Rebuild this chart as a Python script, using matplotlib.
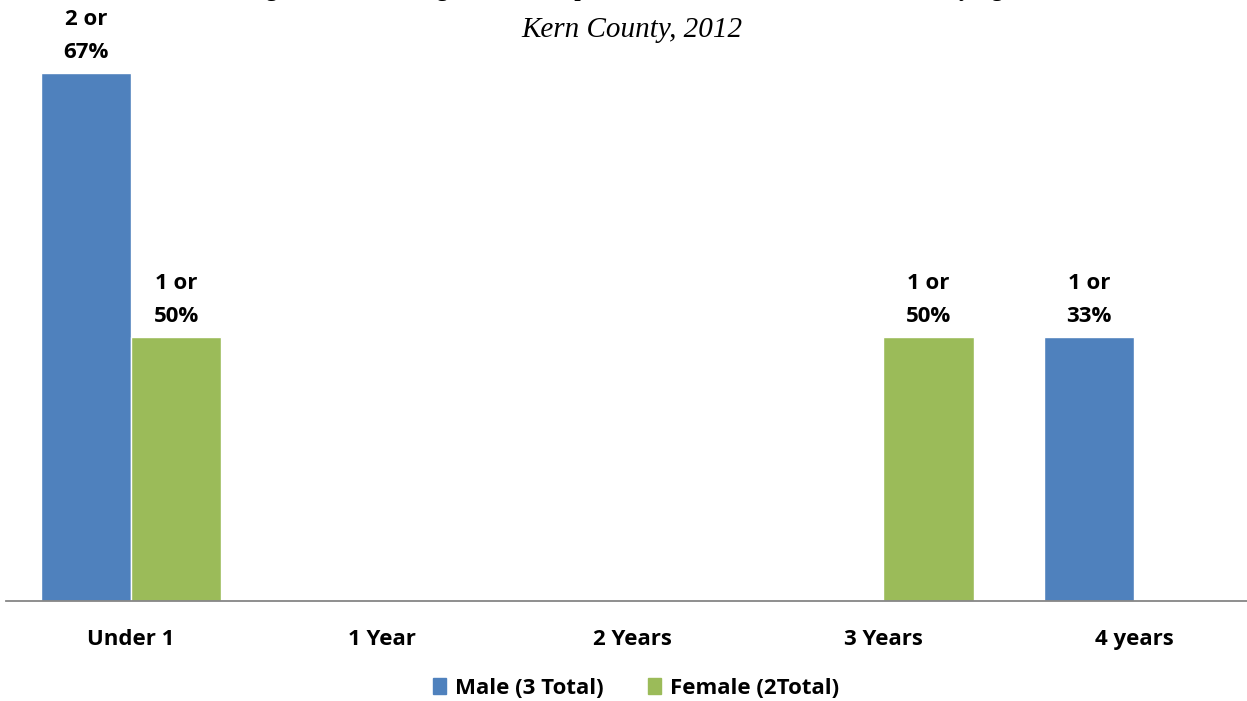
import numpy as np
import matplotlib.pyplot as plt
from matplotlib.patches import Patch

#-- Data -----------------------------------------------------
ages = ['Under 1', '1 Year', '2 Years', '3 Years', '4 years']
male = [2, 0, 0, 0, 1]
female = [1, 0, 0, 1, 0]
male_lbl = ['2 or\n67%', '', '', '', '1 or\n33%']
female_lbl = ['1 or\n50%', '', '', '1 or\n50%', '']

title = 'Figure 11: Drowning Deaths Comparison of Male and Female Children by Age'
subtitle = 'Kern County, 2012'

blue = '#4F81BD'
green = '#9BBB59'
lab_font = ['Open Sans', 'DejaVu Sans']
fs = 16

#-- Plot -----------------------------------------------------
W, H = 1247, 701
fig = plt.figure(figsize=(W / 100, H / 100), dpi=100)
# axes in pixel terms: x 5.6..1259.6, y 73..601 (from top)
ax = fig.add_axes([5.6 / W, (H - 601) / H, 1254 / W, 528 / H])

x = np.arange(len(ages))
bw = 0.36
bm = ax.bar(x - bw / 2, male, bw, color=blue, edgecolor='white', linewidth=1, zorder=3)
bf = ax.bar(x + bw / 2, female, bw, color=green, edgecolor='white', linewidth=1, zorder=3)

for bars, labels in ((bm, male_lbl), (bf, female_lbl)):
    for b, t in zip(bars, labels):
        if t:
            ax.annotate(t, (b.get_x() + b.get_width() / 2, b.get_height()),
                        xytext=(0, 7), textcoords='offset points',
                        ha='center', va='bottom', fontsize=fs, fontweight='bold',
                        family=lab_font, linespacing=1.75, annotation_clip=False)

ax.set_xlim(-0.5, len(ages) - 0.5)
ax.set_ylim(0, 2)
ax.set_yticks([])
ax.set_xticks(x)
ax.set_xticklabels(ages, fontsize=fs, fontweight='bold', family=lab_font)
ax.tick_params(axis='x', length=0, pad=20)
for s in ('top', 'right', 'left'):
    ax.spines[s].set_visible(False)
ax.spines['bottom'].set_color('#868686')
ax.spines['bottom'].set_linewidth(1.3)
ax.spines['bottom'].set_zorder(4)

# title (top cut off in the source) and subtitle
fig.text(0.505, 1 + 4 / H, title, ha='center', va='baseline', fontsize=16.5,
         fontweight='bold', family='Liberation Serif')
fig.text(0.507, 1 - 30 / H, subtitle, ha='center', va='center', fontsize=21,
         style='italic', family='Liberation Serif')

handles = [Patch(color=blue, label='Male (3 Total)'),
           Patch(color=green, label='Female (2Total)')]
fig.legend(handles=handles, loc='center', bbox_to_anchor=(0.51, 1 - 688 / H),
           ncol=2, frameon=False, handlelength=0.6, handleheight=0.7,
           handletextpad=0.4, columnspacing=2.0,
           prop={'family': lab_font, 'weight': 'bold', 'size': fs})

fig.savefig('out.png', dpi=100)
